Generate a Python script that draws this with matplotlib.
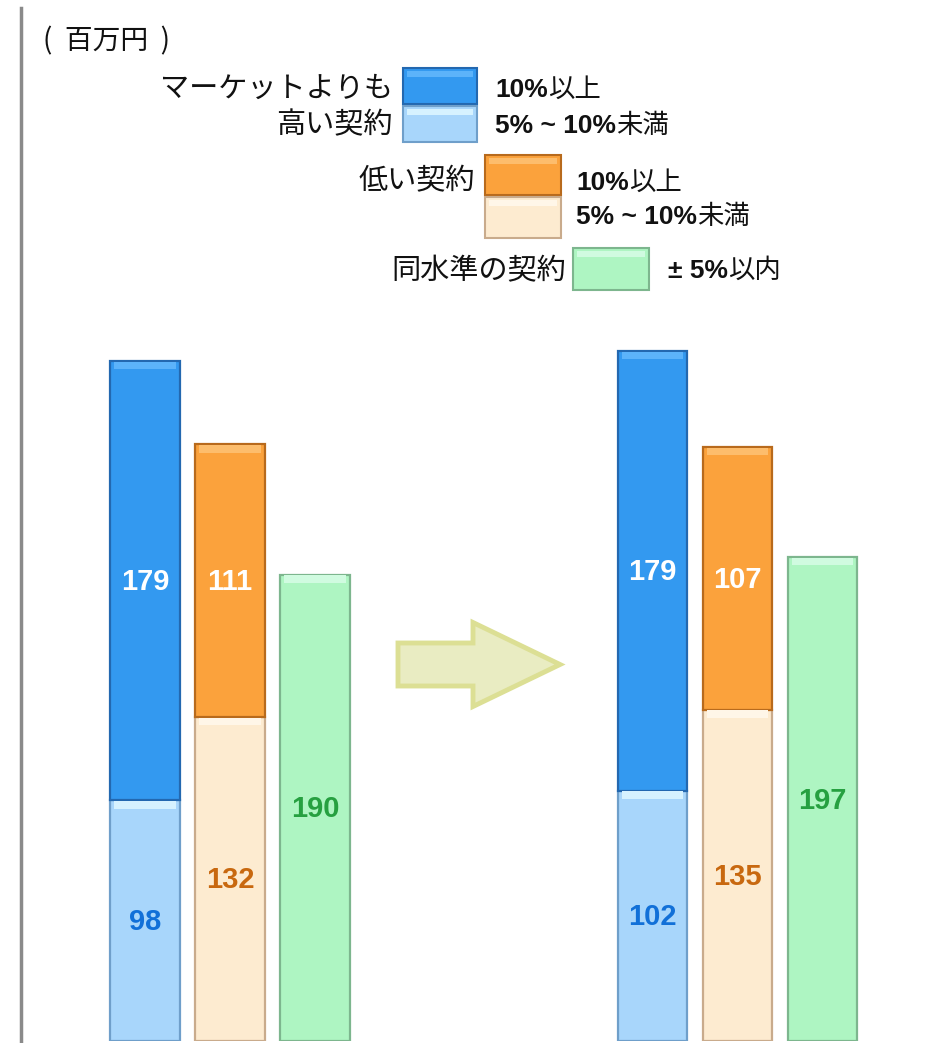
import matplotlib
matplotlib.use('Agg')
import matplotlib.pyplot as plt
import matplotlib.patches as mpatches
from matplotlib.lines import Line2D

W, H = 951, 1043

# values (百万円), before -> after
high_10 = [179, 179]   # マーケットよりも高い契約 10%以上
high_5 = [98, 102]     # マーケットよりも高い契約 5%~10%未満
low_10 = [111, 107]    # 低い契約 10%以上
low_5 = [132, 135]     # 低い契約 5%~10%未満
same = [190, 197]      # 同水準の契約 ±5%以内

group_pos = [0.0, 5.97]

CJK = ['Noto Sans CJK JP', 'DejaVu Sans']
NUM = ['Liberation Sans', 'Noto Sans CJK JP', 'DejaVu Sans']

# face, edge, highlight, label colour
c_high10 = ('#3399f0', '#2368b0', '#5cb3fa', 'white')
c_high5 = ('#a8d6fb', '#6f9fca', '#d6f2ff', '#1170d8')
c_low10 = ('#fba23c', '#b86a1c', '#fdbd6c', 'white')
c_low5 = ('#fdebd0', '#c9ab8c', '#fff6e8', '#c8680f')
c_same = ('#aef5c2', '#7db68e', '#d0fbe0', '#26a040')

fig = plt.figure(figsize=(W / 100, H / 100), dpi=100)
ax = fig.add_axes([0, 2 / H, 1, 736.5 / H])
ax.set_xlim(-145 / 85, (W - 145) / 85)
ax.set_ylim(0, 300)
ax.axis('off')


def seg(x, bottom, height, cols):
    face, edge, light, tc = cols
    ax.bar(x, height, bottom=bottom, width=0.82, color=face,
           edgecolor=edge, linewidth=1.6, zorder=2)
    ax.bar(x, 3.0, bottom=bottom + height - 3.3, width=0.72,
           color=light, linewidth=0, zorder=3)
    ax.text(x, bottom + height / 2 - 0.6, str(height), ha='center', va='center',
            color=tc, fontsize=21, fontweight='bold', family=NUM, zorder=4)


for i, g in enumerate(group_pos):
    seg(g, 0, high_5[i], c_high5)
    seg(g, high_5[i], high_10[i], c_high10)
    seg(g + 1, 0, low_5[i], c_low5)
    seg(g + 1, low_5[i], low_10[i], c_low10)
    seg(g + 2, 0, same[i], c_same)

# left rule
fig.add_artist(Line2D([21 / W, 21 / W], [1 - 8 / H, 1 - 1041 / H],
                      color='#8a8a8a', lw=2.5))

# arrow between the groups
arrow = mpatches.FancyArrow(398 / W, 1 - 664.5 / H, 162 / W, 0,
                            width=43 / H, head_width=84 / H,
                            head_length=87 / W, length_includes_head=True,
                            transform=fig.transFigure, fc='#e9ecc2',
                            ec='#dcdf94', lw=3.5)
fig.add_artist(arrow)


def fx(x):
    return x / W


def fy(y):
    return 1 - y / H


def swatch(x0, y0, x1, y1, cols):
    face, edge, light, _ = cols
    fig.add_artist(mpatches.Rectangle((fx(x0), fy(y1)), fx(x1 - x0), (y1 - y0) / H,
                                      transform=fig.transFigure, fc=face,
                                      ec=edge, lw=1.5))
    fig.add_artist(mpatches.Rectangle((fx(x0 + 4), fy(y0 + 9)), fx(x1 - x0 - 8), 6 / H,
                                      transform=fig.transFigure, fc=light,
                                      lw=0))


renderer = fig.canvas.get_renderer()


def mixed(x, y, parts):
    for s, bold in parts:
        t = fig.text(fx(x), fy(y), s, ha='left', va='baseline', fontsize=19,
                     fontweight='bold' if bold else 'normal',
                     family=NUM if bold else CJK, color='#111111')
        x += t.get_window_extent(renderer).width


def label(x, y, s, ha='right', size=21):
    fig.text(fx(x), fy(y), s, ha=ha, va='center', fontsize=size,
             family=CJK, color='#111111')


label(43, 41, '(  百万円  )', ha='left', size=20)

label(393, 89, 'マーケットよりも')
label(393, 125, '高い契約')
swatch(403, 68, 477, 104, c_high10)
swatch(403, 106, 477, 142, c_high5)
mixed(495, 97, [('10%', True), ('以上', False)])
mixed(495, 133, [('5% ~ 10%', True), ('未満', False)])

label(475, 181, '低い契約')
swatch(485, 155, 561, 195, c_low10)
swatch(485, 197, 561, 238, c_low5)
mixed(576, 190, [('10%', True), ('以上', False)])
mixed(576, 224, [('5% ~ 10%', True), ('未満', False)])

label(566, 271, '同水準の契約')
swatch(573, 248, 649, 290, c_same)
mixed(668, 278, [('± 5%', True), ('以内', False)])

fig.savefig('out.png', dpi=100)
